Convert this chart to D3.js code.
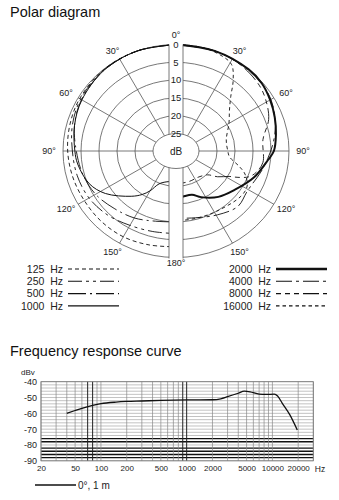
<!DOCTYPE html>
<html>
<head>
<meta charset="utf-8">
<script src="https://cdn.jsdelivr.net/npm/d3@7"></script>
<style>
body { margin: 0; background: #fff; }
svg { display: block; font-family: "Liberation Sans", Arial, sans-serif; }
</style>
</head>
<body>
<div id="chart"></div>
<script>
const width = 339;
const height = 500;

// Polar diagram: [angle from front in degrees, attenuation in dB]
// left half of the diagram shows the low frequencies, right half the high ones
const ringLevels = [0, 5, 10, 15, 20, 25];
const spokeAngles = [30, 60, 90, 120, 150];
const angleLabels = [0, 30, 60, 90, 120, 150, 180];

const hz125 = [[0, 0], [20, 0], [40, 0.1], [60, 0.5], [75, 0.9], [90, 1.3], [105, 1.7], [120, 2], [135, 2], [150, 2.1], [165, 2.6], [180, 3]];
const hz250 = [[0, 0], [20, 0], [40, 0.2], [60, 0.8], [75, 1.6], [90, 2.6], [105, 3], [120, 3.5], [135, 4.5], [150, 5.8], [165, 6.5], [180, 6.7]];
const hz500 = [[0, 0], [20, 0], [40, 0.3], [60, 1.1], [75, 2.2], [90, 3.7], [105, 4.6], [120, 5.6], [135, 7.1], [150, 8.2], [165, 9.5], [180, 10]];
const hz1000 = [[0, 0], [20, 0], [40, 0.3], [60, 1.2], [75, 2.2], [90, 3.3], [98, 3.8], [112, 5.4], [123, 8], [138, 12.8], [145, 15], [150, 17], [156, 19.8], [166, 21], [180, 21.3]];

const hz2000 = [[0, 0], [20, 0], [40, 0], [50, 0.3], [60, 1.2], [70, 2.2], [80, 3.2], [90, 4.2], [96, 5.7], [110, 8.3], [126, 11.3], [140, 13.1], [154, 15.5], [162, 17], [172, 17], [180, 16.5]];
const hz4000 = [[0, 0], [20, 0], [40, 0.2], [55, 0.6], [65, 1.5], [75, 2.8], [85, 4.3], [95, 5.8], [105, 7], [115, 8], [122, 8.2], [134, 7.5], [149, 9], [165, 10.5], [180, 11]];
const hz8000 = [[0, 0], [20, 0], [35, 0.3], [50, 1.2], [60, 2.4], [70, 4], [82, 7], [98, 7], [106, 8.2], [111, 9.7], [115, 12.4], [118, 14.7], [125, 17.3], [131, 19.7], [143, 20.8], [160, 20.8], [180, 20.6]];
const hz16000 = [[0, 0], [12, 0], [22, 0.4], [31, 1.5], [37, 5], [43, 9.1], [50, 12], [60, 14.4], [76, 17], [90, 17], [97, 16.4], [105, 13.2], [110, 11], [118, 9], [127, 8.8], [148, 10], [165, 10.3], [180, 10.3]];

// Frequency response curve
const freqs = [40, 50, 60, 80, 100, 150, 200, 300, 500, 1000, 2000, 2500, 3000, 4000, 4700, 5500, 7000, 8500, 10500, 11500, 13000, 16000, 19500];
const levels = [-60, -58.2, -56.8, -55, -53.9, -52.9, -52.5, -52.2, -51.8, -51.5, -51.4, -50.8, -49.5, -47.3, -46, -46.4, -47.8, -48, -47.9, -49, -53.5, -61, -70.5];
const freqTicks = [20, 50, 100, 200, 500, 1000, 2000, 5000, 10000, 20000];
const dbTicks = [-40, -50, -60, -70, -80, -90];
const darkFreqLines = [70, 80, 900, 1000];
const boldDbLines = [-76, -78, -82, -84, -86, -88];

const polarSeries = [
    { name: "125 Hz", side: -1, data: hz125, dash: "4,3", w: 0.9 },
    { name: "250 Hz", side: -1, data: hz250, dash: "14,4,3,4,3,4", w: 0.9 },
    { name: "500 Hz", side: -1, data: hz500, dash: "18,4,2,4", w: 0.9 },
    { name: "1000 Hz", side: -1, data: hz1000, dash: null, w: 1 },
    { name: "2000 Hz", side: 1, data: hz2000, dash: null, w: 2 },
    { name: "4000 Hz", side: 1, data: hz4000, dash: "16,4,3,4", w: 0.9 },
    { name: "8000 Hz", side: 1, data: hz8000, dash: "5,4,5,4,5,4,16,4", w: 0.9 },
    { name: "16000 Hz", side: 1, data: hz16000, dash: "3.5,3", w: 0.9 }
];

const svg = d3.select("#chart").append("svg")
    .attr("width", width)
    .attr("height", height)
    .attr("viewBox", [0, 0, width, height]);

svg.append("text")
    .attr("x", 10)
    .attr("y", 17)
    .attr("font-size", 14.5)
    .attr("fill", "#111")
    .text("Polar diagram");

// ---------- polar diagram ----------
const cx = 176;
const cy = 151;
const rx = d3.scaleLinear().domain([0, 25]).range([113, 23]);
const ry = d3.scaleLinear().domain([0, 25]).range([106.5, 17.5]);
const rad = a => a * Math.PI / 180;
const pt = (a, L, s) => [cx + s * rx(L) * Math.sin(rad(a)), cy - ry(L) * Math.cos(rad(a))];

const polar = svg.append("g");

polar.append("g")
    .selectAll("ellipse")
    .data(ringLevels.slice(0, 5))
    .join("ellipse")
    .attr("cx", cx)
    .attr("cy", cy)
    .attr("rx", d => rx(d))
    .attr("ry", d => ry(d))
    .attr("fill", "none")
    .attr("stroke", "#555")
    .attr("stroke-width", 0.8);

polar.append("g")
    .attr("stroke", "#555")
    .attr("stroke-width", 0.8)
    .selectAll("line")
    .data(spokeAngles.flatMap(a => [[a, -1], [a, 1]]))
    .join("line")
    .attr("x1", d => pt(d[0], 25, d[1])[0])
    .attr("y1", d => pt(d[0], 25, d[1])[1])
    .attr("x2", d => pt(d[0], 0, d[1])[0])
    .attr("y2", d => pt(d[0], 0, d[1])[1]);

const polarLine = d3.line().curve(d3.curveCatmullRom.alpha(0.5));

polar.append("g")
    .attr("fill", "none")
    .attr("stroke", "#111")
    .selectAll("path")
    .data(polarSeries)
    .join("path")
    .attr("stroke-width", d => d.w)
    .attr("stroke-dasharray", d => d.dash)
    .attr("d", d => polarLine(d.data.map(([a, L]) => pt(a, L, d.side))));

// white bar on the 0-180 axis holding the level scale
polar.append("rect")
    .attr("x", cx - 7)
    .attr("y", cy - ry(0) - 2)
    .attr("width", 14)
    .attr("height", 2 * ry(0) + 4)
    .attr("fill", "#fff");

polar.append("g")
    .attr("stroke", "#555")
    .attr("stroke-width", 0.8)
    .selectAll("line")
    .data([-7, 7])
    .join("line")
    .attr("x1", d => cx + d)
    .attr("x2", d => cx + d)
    .attr("y1", cy - ry(0))
    .attr("y2", cy + ry(0) + 1);

polar.append("ellipse")
    .attr("cx", cx)
    .attr("cy", cy)
    .attr("rx", rx(25))
    .attr("ry", ry(25))
    .attr("fill", "#fff")
    .attr("stroke", "#555")
    .attr("stroke-width", 0.8);

polar.append("text")
    .attr("x", cx)
    .attr("y", cy)
    .attr("dy", "0.35em")
    .attr("text-anchor", "middle")
    .attr("font-size", 10)
    .attr("fill", "#222")
    .text("dB");

polar.append("g")
    .attr("font-size", 9.5)
    .attr("fill", "#222")
    .attr("text-anchor", "middle")
    .selectAll("text")
    .data(ringLevels)
    .join("text")
    .attr("x", cx)
    .attr("y", d => cy - ry(d))
    .attr("dy", "0.35em")
    .text(d => d);

polar.append("g")
    .attr("font-size", 9)
    .attr("fill", "#222")
    .attr("text-anchor", "middle")
    .selectAll("text")
    .data(angleLabels.flatMap(a => (a === 0 || a === 180) ? [[a, 1]] : [[a, -1], [a, 1]]))
    .join("text")
    .attr("x", d => cx + d[1] * 127 * Math.sin(rad(d[0])))
    .attr("y", d => cy - (d[0] === 180 ? 112 : 116) * Math.cos(rad(d[0])))
    .attr("dy", "0.35em")
    .text(d => d[0] + "°");

// polar legend: two columns
const legend = svg.append("g")
    .attr("font-size", 10.5)
    .attr("fill", "#222")
    .selectAll("g")
    .data(polarSeries)
    .join("g")
    .attr("transform", (d, i) => `translate(${d.side < 0 ? 0 : 208},${269 + (i % 4) * 12.3})`);

legend.append("text")
    .attr("x", 63)
    .attr("dy", "0.35em")
    .attr("text-anchor", "end")
    .style("white-space", "pre")
    .text(d => d.name.replace(" ", "  "));

legend.append("line")
    .attr("x1", 68)
    .attr("x2", 119)
    .attr("stroke", "#111")
    .attr("stroke-width", d => d.w === 2 ? 2.4 : 1.1)
    .attr("stroke-dasharray", d => d.dash);

// ---------- frequency response ----------
svg.append("text")
    .attr("x", 10)
    .attr("y", 356)
    .attr("font-size", 14.5)
    .attr("fill", "#111")
    .text("Frequency response curve");

const x = d3.scaleLog().domain([20, 30000]).range([41, 313.3]);
const y = d3.scaleLinear().domain([-90, -40]).range([460.8, 381.7]);

const grid = svg.append("g");

grid.append("g")
    .selectAll("line")
    .data(d3.range(-90, -39, 2))
    .join("line")
    .attr("x1", x.range()[0])
    .attr("x2", x.range()[1])
    .attr("y1", d => y(d))
    .attr("y2", d => y(d))
    .attr("stroke", d => boldDbLines.includes(d) ? "#111" : "#999")
    .attr("stroke-width", d => boldDbLines.includes(d) ? 1.4 : 0.6);

grid.append("g")
    .selectAll("line")
    .data(x.ticks())
    .join("line")
    .attr("x1", d => x(d))
    .attr("x2", d => x(d))
    .attr("y1", y.range()[1])
    .attr("y2", y.range()[0])
    .attr("stroke", d => darkFreqLines.includes(d) ? "#222" : "#888")
    .attr("stroke-width", d => darkFreqLines.includes(d) ? 1 : 0.7);

grid.append("rect")
    .attr("x", x.range()[0])
    .attr("y", y.range()[1])
    .attr("width", x.range()[1] - x.range()[0])
    .attr("height", y.range()[0] - y.range()[1])
    .attr("fill", "none")
    .attr("stroke", "#777")
    .attr("stroke-width", 0.8);

svg.append("path")
    .datum(freqs.map((f, i) => [f, levels[i]]))
    .attr("fill", "none")
    .attr("stroke", "#111")
    .attr("stroke-width", 1.3)
    .attr("d", d3.line().x(d => x(d[0])).y(d => y(d[1])).curve(d3.curveMonotoneX));

svg.append("g")
    .attr("transform", `translate(0,${y.range()[0]})`)
    .call(d3.axisBottom(x).tickValues(freqTicks).tickFormat(d => d).tickSize(0).tickPadding(5))
    .call(g => g.select(".domain").remove())
    .call(g => g.selectAll("text").attr("font-size", 8).attr("font-family", "'Liberation Sans', Arial, sans-serif").attr("fill", "#222"))
    .call(g => g.append("text")
        .attr("x", 320)
        .attr("y", 5)
        .attr("dy", "0.71em")
        .attr("fill", "#222")
        .attr("font-size", 8.5)
        .attr("font-family", "'Liberation Sans', Arial, sans-serif")
        .attr("text-anchor", "middle")
        .text("Hz"));

svg.append("g")
    .attr("transform", `translate(${x.range()[0]},0)`)
    .call(d3.axisLeft(y).tickValues(dbTicks).tickFormat(d => "-" + Math.abs(d)).tickSize(0).tickPadding(4))
    .call(g => g.select(".domain").remove())
    .call(g => g.selectAll("text").attr("font-size", 9).attr("font-family", "'Liberation Sans', Arial, sans-serif").attr("fill", "#222"))
    .call(g => g.append("text")
        .attr("x", -20)
        .attr("y", 375)
        .attr("fill", "#222")
        .attr("font-size", 8)
        .attr("font-family", "'Liberation Sans', Arial, sans-serif")
        .attr("text-anchor", "start")
        .text("dBv"));

// frequency legend
svg.append("line")
    .attr("x1", 35)
    .attr("x2", 76)
    .attr("y1", 485)
    .attr("y2", 485)
    .attr("stroke", "#111")
    .attr("stroke-width", 1.5);

svg.append("text")
    .attr("x", 78)
    .attr("y", 485)
    .attr("dy", "0.35em")
    .attr("font-size", 10)
    .attr("fill", "#222")
    .text("0°, 1 m");
</script>
</body>
</html>
